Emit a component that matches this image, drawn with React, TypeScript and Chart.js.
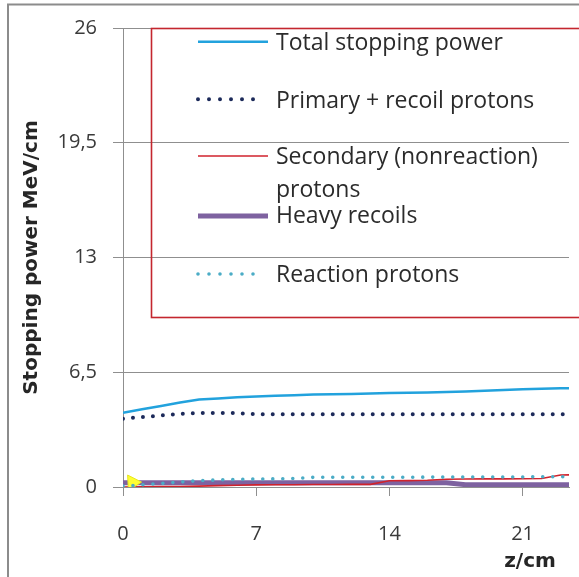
import React, { useEffect, useRef } from "react";
import { Chart, registerables } from "chart.js";

Chart.register(...registerables);

// ---- data ----
const zValues = [0, 1, 2, 3, 4, 5, 6, 7, 8, 9, 10, 11, 12, 13, 14, 15, 16, 17, 18, 19, 20, 21, 22, 23, 24];
const totalStopping = [4.21, 4.4, 4.59, 4.79, 4.95, 5.02, 5.09, 5.13, 5.17, 5.2, 5.24, 5.26, 5.27, 5.3, 5.32, 5.34, 5.36, 5.38, 5.41, 5.45, 5.5, 5.53, 5.56, 5.59, 5.61];
const primaryRecoil = [3.87, 3.96, 4.05, 4.14, 4.19, 4.19, 4.19, 4.12, 4.12, 4.12, 4.12, 4.12, 4.12, 4.12, 4.12, 4.12, 4.12, 4.12, 4.12, 4.12, 4.12, 4.12, 4.12, 4.12, 4.12];
const secondaryNonreaction = [0.0, 0.01, 0.02, 0.03, 0.05, 0.08, 0.1, 0.12, 0.13, 0.13, 0.14, 0.14, 0.15, 0.15, 0.35, 0.36, 0.38, 0.44, 0.45, 0.46, 0.46, 0.47, 0.48, 0.68, 0.7];
const heavyRecoils = [0.24, 0.24, 0.24, 0.24, 0.24, 0.24, 0.24, 0.24, 0.24, 0.24, 0.24, 0.24, 0.24, 0.24, 0.24, 0.24, 0.24, 0.24, 0.13, 0.13, 0.13, 0.13, 0.13, 0.13, 0.13];
const reactionProtons = [0.05, 0.12, 0.2, 0.28, 0.36, 0.4, 0.43, 0.45, 0.46, 0.48, 0.55, 0.55, 0.55, 0.55, 0.55, 0.55, 0.56, 0.56, 0.56, 0.57, 0.57, 0.57, 0.58, 0.58, 0.58];
const markerZ = [0.5];
const markerValue = [0.25];

const seriesKeys = ["total", "primary", "secondary", "heavy", "reaction"];
const seriesLabels: (string | string[])[] = [
  "Total stopping power",
  "Primary + recoil protons",
  ["Secondary (nonreaction)", "protons"],
  "Heavy recoils",
  "Reaction protons",
];

const yTickValues = [0, 6.5, 13, 19.5, 26];
const yTickLabels = ["0", "6,5", "13", "19,5", "26"];
const xTickStep = 7;
const xMax = 23.44;
const yTitle = "Stopping power MeV/cm";
const xTitle = "z/cm";

const toPoints = (ys: number[], xs: number[]) => ys.map((y, i) => ({ x: xs[i], y }));

const GRID = "#8f8f8f";
const TEXT = "#3a3a3a";

const framePlugin = {
  id: "frame",
  beforeDraw(chart: any) {
    const { ctx } = chart;
    ctx.save();
    ctx.fillStyle = "#ffffff";
    ctx.fillRect(0, 0, chart.width, chart.height);
    ctx.strokeStyle = "#8c8c8c";
    ctx.lineWidth = 2;
    ctx.strokeRect(8, 4.5, 2000, 2000);
    ctx.restore();
  },
};

const legendPlugin = {
  id: "boxLegend",
  afterDraw(chart: any) {
    const { ctx } = chart;
    ctx.save();
    ctx.strokeStyle = "#c4262e";
    ctx.lineWidth = 1.6;
    ctx.strokeRect(151.5, 28.5, 600, 289);
    const sampleY = [41.7, 99.3, 156, 216, 274];
    const baseY = [50, 107.5, 164, 222.5, 281.5];
    ctx.font = "23px 'Open Sans'";
    ctx.textBaseline = "alphabetic";
    ctx.textAlign = "left";
    seriesLabels.forEach((lab, i) => {
      const ds = chart.data.datasets.find((d: any) => d.key === seriesKeys[i]);
      const dotted = Array.isArray(ds.borderDash) && ds.borderDash.length > 0;
      ctx.beginPath();
      ctx.strokeStyle = ds.borderColor;
      ctx.lineWidth = ds.borderWidth;
      ctx.lineCap = dotted ? "round" : "butt";
      ctx.setLineDash(dotted ? [0, 11] : []);
      ctx.moveTo(198, sampleY[i]);
      ctx.lineTo(dotted ? 264 : 268, sampleY[i]);
      ctx.stroke();
      ctx.setLineDash([]);
      ctx.fillStyle = "#2b2b2b";
      const lines = Array.isArray(lab) ? lab : [lab];
      lines.forEach((t, j) => ctx.fillText(t, 276, baseY[i] + j * 32.5));
    });
    ctx.font = "bold 20px 'DejaVu Sans'";
    ctx.fillStyle = "#262626";
    ctx.textAlign = "center";
    ctx.textBaseline = "middle";
    ctx.fillText(xTitle, 530, 562);
    ctx.restore();
  },
};

export default function App() {
  const canvasRef = useRef<HTMLCanvasElement | null>(null);

  useEffect(() => {
    if (!canvasRef.current) return;
    const chart = new Chart(canvasRef.current, {
      type: "line",
      data: {
        datasets: [
          {
            key: "total",
            label: "Total stopping power",
            data: toPoints(totalStopping, zValues),
            borderColor: "#22a2dd",
            borderWidth: 2.5,
            pointRadius: 0,
            tension: 0,
            order: 0,
          },
          {
            key: "primary",
            label: "Primary + recoil protons",
            data: toPoints(primaryRecoil, zValues),
            borderColor: "#1c2a5a",
            borderWidth: 4,
            borderDash: [0, 10],
            borderCapStyle: "round",
            pointRadius: 0,
            tension: 0,
            order: 1,
          },
          {
            key: "reaction",
            label: "Reaction protons",
            data: toPoints(reactionProtons, zValues),
            borderColor: "#4bacc6",
            borderWidth: 3.6,
            borderDash: [0, 10],
            borderCapStyle: "round",
            pointRadius: 0,
            tension: 0,
            order: 2,
          },
          {
            key: "marker",
            label: "marker",
            data: toPoints(markerValue, markerZ),
            showLine: false,
            pointStyle: "triangle",
            pointRadius: 9,
            pointRotation: -33,
            backgroundColor: "#ffff33",
            borderColor: "#e8e820",
            borderWidth: 1,
            order: 3,
          },
          {
            key: "secondary",
            label: "Secondary (nonreaction) protons",
            data: toPoints(secondaryNonreaction, zValues),
            borderColor: "#d0222c",
            borderWidth: 1.6,
            pointRadius: 0,
            tension: 0,
            order: 4,
          },
          {
            key: "heavy",
            label: "Heavy recoils",
            data: toPoints(heavyRecoils, zValues),
            borderColor: "#7e62a0",
            borderWidth: 5,
            pointRadius: 0,
            tension: 0,
            order: 5,
          },
        ] as any,
      },
      options: {
        animation: false,
        responsive: false,
        devicePixelRatio: 1,
        layout: { padding: { top: 27, right: 0, left: 0, bottom: 0 } },
        plugins: { legend: { display: false }, tooltip: { enabled: false }, title: { display: false } },
        scales: {
          x: {
            type: "linear",
            min: 0,
            max: xMax,
            afterFit: (s: any) => {
              s.height = 90;
            },
            ticks: {
              stepSize: xTickStep,
              includeBounds: false,
              padding: 26,
              color: TEXT,
              font: { family: "'Open Sans'", size: 20 },
              maxRotation: 0,
            },
            grid: { drawOnChartArea: false, drawTicks: true, tickLength: 9, color: GRID },
            border: { display: true, color: GRID, width: 1 },
          },
          y: {
            type: "linear",
            min: 0,
            max: 26,
            afterFit: (s: any) => {
              s.width = 123;
            },
            ticks: {
              stepSize: 6.5,
              padding: 16,
              color: TEXT,
              font: { family: "'Open Sans'", size: 20 },
              callback: (v: any) => {
                const i = yTickValues.indexOf(Number(v));
                return i >= 0 ? yTickLabels[i] : String(v).replace(".", ",");
              },
            },
            grid: { color: GRID, tickLength: 10, lineWidth: 1 },
            border: { display: true, color: GRID, width: 1 },
            title: {
              display: true,
              text: yTitle,
              color: "#262626",
              font: { family: "'DejaVu Sans'", size: 20, weight: "bold" },
              padding: { top: 20, bottom: 0 },
            },
          },
        },
      } as any,
      plugins: [framePlugin, legendPlugin],
    });
    return () => chart.destroy();
  }, []);

  return (
    <div style={{ position: "fixed", left: 0, top: 0, width: 579, height: 577, overflow: "hidden", background: "#fff" }}>
      <canvas ref={canvasRef} width={579} height={577} style={{ display: "block", width: 579, height: 577 }} />
    </div>
  );
}
